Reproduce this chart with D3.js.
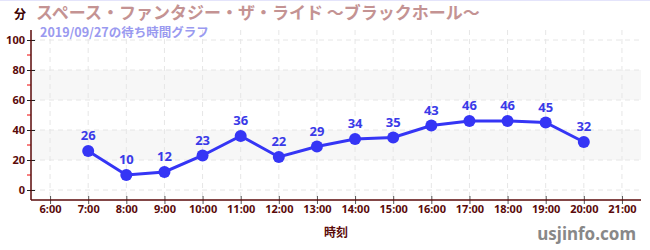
<!DOCTYPE html>
<html>
<head>
<meta charset="utf-8">
<script src="https://cdn.jsdelivr.net/npm/d3@7"></script>
<style>
body{margin:0;background:#fff;font-family:"Noto Sans CJK JP","Noto Sans",sans-serif;}
</style>
</head>
<body>
<svg id="chart"></svg>
<script>
// wait times, 2019/09/27
var hours=[7,8,9,10,11,12,13,14,15,16,17,18,19,20];
var waits=[26,10,12,23,36,22,29,34,35,43,46,46,45,32];
var xTicks=[6,7,8,9,10,11,12,13,14,15,16,17,18,19,20,21];
var yTicks=[0,20,40,60,80,100];
var yMinor=[10,30,50,70,90];
var bands=[[20,40],[60,80]];

var width=650,height=250;
var svg=d3.select("#chart").attr("width",width).attr("height",height);

var x=d3.scaleLinear().domain([5.5,21.5]).range([31,641]);
var y=d3.scaleLinear().domain([0,100]).range([190,40]);
var axisCol="#5a0a0a";

svg.append("rect").attr("x",0).attr("y",0).attr("width",width).attr("height",1).attr("fill","#e4e4fb");

// bands
svg.selectAll("rect.band").data(bands).enter().append("rect")
    .attr("class","band")
    .attr("x",x(5.5)).attr("width",x(21.5)-x(5.5))
    .attr("y",function(d){return y(d[1]);})
    .attr("height",function(d){return y(d[0])-y(d[1]);})
    .attr("fill","#f7f7f7");

// grid
svg.selectAll("line.hg").data(yTicks).enter().append("line")
    .attr("x1",x(5.5)).attr("x2",x(21.5))
    .attr("y1",function(d){return y(d);}).attr("y2",function(d){return y(d);})
    .attr("stroke","#e6e6e6").attr("stroke-dasharray","5,4");
svg.selectAll("line.vg").data(xTicks).enter().append("line")
    .attr("x1",function(d){return x(d);}).attr("x2",function(d){return x(d);})
    .attr("y1",30).attr("y2",200)
    .attr("stroke","#e6e6e6").attr("stroke-dasharray","5,4");

// y axis
var yAxis=d3.axisLeft(y).tickValues(yTicks).tickSize(8).tickPadding(2);
var gy=svg.append("g").attr("transform","translate(35,0)").call(yAxis);
gy.select(".domain").remove();
gy.selectAll(".tick line").attr("stroke","#222");
gy.selectAll("text").attr("fill",axisCol).style("font-size","11px").style("font-weight","bold")
    .style("font-family","'Noto Sans',sans-serif");
svg.selectAll("line.ym").data(yMinor).enter().append("line")
    .attr("x1",27).attr("x2",31)
    .attr("y1",function(d){return y(d);}).attr("y2",function(d){return y(d);})
    .attr("stroke","#e00");
svg.append("line").attr("x1",31).attr("x2",31).attr("y1",30).attr("y2",200)
    .attr("stroke",axisCol).attr("stroke-width",1.5);

// x axis
var xAxis=d3.axisBottom(x).tickValues(xTicks).tickSize(8).tickPadding(1)
    .tickFormat(function(d){return d+":00";});
var gx=svg.append("g").attr("transform","translate(0,196)").call(xAxis);
gx.select(".domain").remove();
gx.selectAll(".tick line").attr("stroke","#555");
gx.selectAll("text").attr("fill",axisCol).style("font-size","11px").style("font-weight","bold")
    .style("font-family","'Noto Sans',sans-serif");
svg.append("line").attr("x1",31).attr("x2",641).attr("y1",200).attr("y2",200)
    .attr("stroke",axisCol).attr("stroke-width",1.5);

// line + points
var pts=hours.map(function(h,i){return [h,waits[i]];});
var line=d3.line().x(function(d){return x(d[0]);}).y(function(d){return y(d[1]);});
svg.append("path").datum(pts).attr("d",line)
    .attr("fill","none").attr("stroke","#3535f5").attr("stroke-width",3);
svg.selectAll("circle.pt").data(pts).enter().append("circle")
    .attr("cx",function(d){return x(d[0]);}).attr("cy",function(d){return y(d[1]);})
    .attr("r",6).attr("fill","#3535f5");
svg.selectAll("text.lbl").data(pts).enter().append("text")
    .attr("x",function(d){return x(d[0]);}).attr("y",function(d){return y(d[1])-11;})
    .attr("text-anchor","middle").attr("fill","#3a3ae8")
    .style("font-size","13px").style("font-weight","bold")
    .style("font-family","'Noto Sans',sans-serif")
    .text(function(d){return d[1];});

// titles
svg.append("text").attr("x",14).attr("y",19).attr("fill","#3a0000")
    .style("font-size","12px").style("font-weight","bold").text("分");
svg.append("text").attr("x",36).attr("y",19).attr("fill","#c49393")
    .style("font-size","17px").style("font-weight","bold")
    .text("スペース・ファンタジー・ザ・ライド ～ブラックホール～");
svg.append("text").attr("x",40).attr("y",37).attr("fill","#9a9af0")
    .style("font-size","12.5px").style("font-weight","bold").text("2019/09/27の待ち時間グラフ");
svg.append("text").attr("x",336).attr("y",237).attr("text-anchor","middle").attr("fill","#5a0a0a")
    .style("font-size","12px").style("font-weight","bold").text("時刻");
svg.append("text").attr("x",636).attr("y",240).attr("text-anchor","end").attr("fill","#888")
    .style("font-size","17px").style("font-weight","bold")
    .style("font-family","'Noto Sans',sans-serif").text("usjinfo.com");
</script>
</body>
</html>
